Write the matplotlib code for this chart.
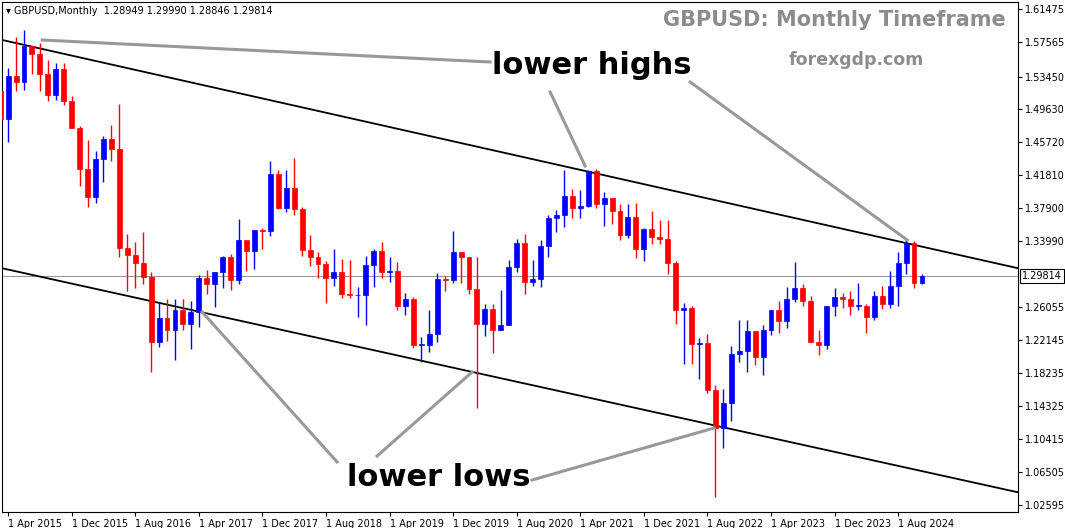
import matplotlib.pyplot as plt
import numpy as np

# monthly GBPUSD, Mar 2015 .. Nov 2024
first_open = 1.518
closes = [1.484, 1.535, 1.528, 1.571, 1.561, 1.538, 1.513, 1.544, 1.505, 1.474,
          1.425, 1.392, 1.437, 1.461, 1.449, 1.331, 1.323, 1.313, 1.297, 1.219, 1.248, 1.234,
          1.258, 1.241, 1.255, 1.295, 1.288, 1.302, 1.320, 1.293, 1.340, 1.328, 1.352, 1.351,
          1.419, 1.378, 1.402, 1.377, 1.329, 1.320, 1.312, 1.296, 1.303, 1.277, 1.275, 1.275,
          1.311, 1.327, 1.303, 1.304, 1.262, 1.270, 1.216, 1.216, 1.229, 1.294, 1.293, 1.326,
          1.320, 1.282, 1.241, 1.259, 1.234, 1.240, 1.309, 1.337, 1.291, 1.294, 1.334, 1.367,
          1.370, 1.393, 1.378, 1.381, 1.422, 1.383, 1.390, 1.375, 1.347, 1.368, 1.330, 1.353,
          1.344, 1.342, 1.313, 1.257, 1.260, 1.217, 1.218, 1.162, 1.117, 1.147, 1.205, 1.209,
          1.232, 1.202, 1.234, 1.257, 1.244, 1.271, 1.284, 1.268, 1.220, 1.216, 1.262, 1.273,
          1.271, 1.262, 1.262, 1.249, 1.274, 1.265, 1.286, 1.313, 1.337, 1.289, 1.29814]
highs = [1.524, 1.545, 1.581, 1.590, 1.567, 1.574, 1.554, 1.551, 1.551, 1.512,
         1.476, 1.459, 1.446, 1.464, 1.477, 1.502, 1.348, 1.338, 1.350, 1.303, 1.267, 1.270,
         1.270, 1.270, 1.268, 1.299, 1.305, 1.302, 1.321, 1.324, 1.366, 1.339, 1.352, 1.355,
         1.434, 1.424, 1.424, 1.438, 1.380, 1.347, 1.326, 1.316, 1.330, 1.318, 1.317, 1.285,
         1.322, 1.330, 1.338, 1.320, 1.314, 1.278, 1.273, 1.225, 1.258, 1.301, 1.298, 1.351,
         1.322, 1.320, 1.320, 1.265, 1.264, 1.281, 1.317, 1.342, 1.348, 1.317, 1.340, 1.370,
         1.376, 1.424, 1.401, 1.400, 1.424, 1.425, 1.398, 1.390, 1.383, 1.383, 1.384, 1.355,
         1.375, 1.364, 1.364, 1.316, 1.266, 1.262, 1.224, 1.229, 1.168, 1.164, 1.215, 1.245,
         1.245, 1.227, 1.240, 1.258, 1.268, 1.285, 1.314, 1.288, 1.274, 1.234, 1.262, 1.283,
         1.278, 1.280, 1.289, 1.265, 1.280, 1.286, 1.304, 1.326, 1.343, 1.339, 1.29990]
lows = [1.462, 1.457, 1.517, 1.519, 1.537, 1.518, 1.506, 1.507, 1.501, 1.473,
        1.405, 1.380, 1.385, 1.409, 1.434, 1.320, 1.280, 1.284, 1.288, 1.184, 1.214, 1.221,
        1.198, 1.234, 1.211, 1.237, 1.277, 1.261, 1.283, 1.281, 1.288, 1.304, 1.306, 1.330,
        1.345, 1.377, 1.374, 1.370, 1.321, 1.310, 1.296, 1.266, 1.286, 1.272, 1.272, 1.249,
        1.240, 1.285, 1.296, 1.291, 1.257, 1.252, 1.212, 1.196, 1.207, 1.219, 1.280, 1.290,
        1.290, 1.276, 1.141, 1.226, 1.206, 1.234, 1.248, 1.303, 1.276, 1.286, 1.285, 1.320,
        1.350, 1.356, 1.367, 1.367, 1.380, 1.378, 1.357, 1.360, 1.341, 1.343, 1.319, 1.316,
        1.336, 1.336, 1.300, 1.241, 1.193, 1.193, 1.176, 1.159, 1.035, 1.094, 1.126, 1.196,
        1.184, 1.192, 1.180, 1.228, 1.230, 1.236, 1.267, 1.262, 1.219, 1.204, 1.211, 1.250,
        1.260, 1.251, 1.258, 1.230, 1.245, 1.259, 1.260, 1.262, 1.300, 1.284, 1.28846]

yticks = [1.61475, 1.57565, 1.53450, 1.49630, 1.45720, 1.41810, 1.37900, 1.33990,
          1.26055, 1.22145, 1.18235, 1.14325, 1.10415, 1.06505, 1.02595]
xlabels = ['1 Apr 2015', '1 Dec 2015', '1 Aug 2016', '1 Apr 2017', '1 Dec 2017', '1 Aug 2018',
           '1 Apr 2019', '1 Dec 2019', '1 Aug 2020', '1 Apr 2021', '1 Dec 2021', '1 Aug 2022',
           '1 Apr 2023', '1 Dec 2023', '1 Aug 2024']
upper_channel = [1.578, 1.307]
lower_channel = [1.307, 1.041]
last_price = 1.29814

BLUE = '#0000ff'
RED = '#ff0000'

fig = plt.figure(figsize=(10.65, 5.28), dpi=100)
ax = fig.add_axes([0.002, 16 / 528, 1016 / 1065, 510 / 528])

opens = [first_open] + closes[:-1]
idx = np.arange(len(closes)) - 1  # index 0 = Apr 2015
for i, o, h, l, c in zip(idx, opens, highs, lows, closes):
    col = BLUE if c >= o else RED
    ax.vlines(i, l, h, color=col, lw=1, zorder=3)
    ax.bar(i, max(abs(c - o), 0.0008), bottom=min(o, c), width=0.62, color=col,
           edgecolor=col, lw=0.5, zorder=4)

xl = (-0.75, 127.1)
ylo, yhi = 1.01765, 1.62306
ax.plot(xl, upper_channel, color='black', lw=1.3, zorder=2)
ax.plot(xl, lower_channel, color='black', lw=1.3, zorder=2)
ax.axhline(last_price, color='#999999', lw=0.8, zorder=1)
ax.set_xlim(*xl)
ax.set_ylim(ylo, yhi)

ax.yaxis.tick_right()
ax.set_yticks(yticks)
ax.set_yticklabels(['%.5f' % v for v in yticks], fontsize=7)
ax.set_xticks(np.arange(0, 8 * len(xlabels), 8))
ax.set_xticklabels(xlabels, fontsize=7, ha='left')
ax.tick_params(length=3, pad=2)
ax.text(1.004, (last_price - ylo) / (yhi - ylo), '%.5f' % last_price, transform=ax.transAxes,
        fontsize=7, va='center', ha='left',
        bbox=dict(facecolor='white', edgecolor='black', pad=1.5, lw=0.8))

# annotations (axes fraction from pixel positions)
W, H = 1016, 510
def af(px, py):
    return (px / W, 1 - (py - 2) / H)

tr = ax.transAxes
ax.text(*af(490, 66), 'lower highs', transform=tr, fontsize=22, fontweight='semibold',
        va='center', ha='left')
ax.text(*af(345, 478), 'lower lows', transform=tr, fontsize=22, fontweight='semibold',
        va='center', ha='left')
segs = [((40, 40), (488, 62)), ((548, 92), (583, 166)), ((688, 82), (905, 240)),
        ((335, 462), (200, 312)), ((375, 456), (470, 372)), ((530, 480), (712, 428))]
for a, b in segs:
    ax.plot(*zip(af(*a), af(*b)), transform=tr, color='#999999', lw=2.2, zorder=5)

ax.text(*af(1004, 20), 'GBPUSD: Monthly Timeframe', transform=tr, fontsize=15,
        fontweight='bold', color='#8c8c8c', ha='right', va='center')
ax.text(*af(922, 60), 'forexgdp.com', transform=tr, fontsize=12.5,
        fontweight='bold', color='#8c8c8c', ha='right', va='center')
ax.text(*af(4, 11), '\u25be GBPUSD,Monthly  1.28949 1.29990 1.28846 1.29814', transform=tr,
        fontsize=7, ha='left', va='center')

fig.savefig('out.png', dpi=100)
